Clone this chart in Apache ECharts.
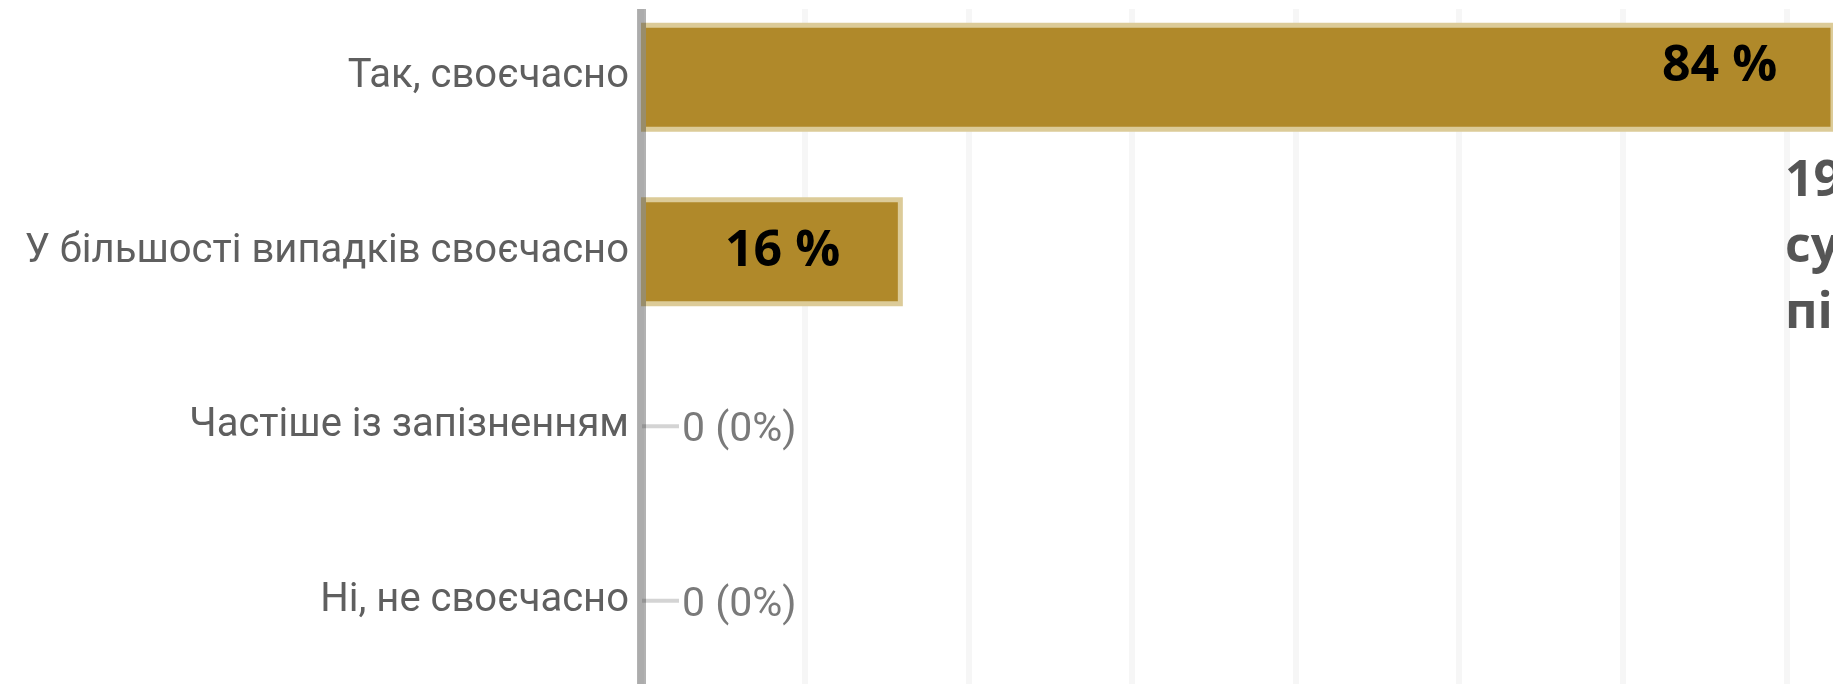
<!DOCTYPE html>
<html>
<head>
<meta charset="utf-8">
<script src="https://cdn.jsdelivr.net/npm/echarts@6/dist/echarts.min.js"></script>
<style>
  html, body { margin: 0; padding: 0; background: #fff; }
  #ftBarBox { width: 1833px; height: 684px; }
</style>
</head>
<body>
<div id="ftBarBox"></div>
<script>
// варіанти відповідей
var categories = ["Так, своєчасно", "У більшості випадків своєчасно", "Частіше із запізненням", "Ні, не своєчасно"];
// кількість відповідей
var counts = [21, 4, 0, 0];
// відсотки
var percents = [84, 16, 0, 0];
// текст праворуч (обрізаний)
var noteLines = ["19", "су", "пі"];

var myChart = echarts.init(document.getElementById("ftBarBox"));

var seriesData = counts.map(function (v, i) {
  var item = { value: v };
  if (v > 0) {
    item.label = {
      show: true,
      position: "insideLeft",
      offset: i === 0 ? [1016, -11] : [79, 0], //підпис як на картинці
      formatter: percents[i] + " %",
      color: "#000",
      fontFamily: "Open Sans",
      fontWeight: "bold",
      fontSize: 50,
    };
  } else {
    item.itemStyle = { borderWidth: 0 };
    item.label = {
      show: true,
      position: "right",
      distance: 1,
      formatter: "{l| }{t|" + v + " (" + percents[i] + "%)}",
      rich: {
        l: { width: 37, height: 4, backgroundColor: "#d4d4d4" },
        t: { color: "#7a7a7a", fontFamily: "Roboto", fontSize: 41, padding: [9, 0, 0, 3] },
      },
    };
  }
  return item;
});

var option = {
  animation: false,
  grid: {
    left: 641,
    right: 0,
    top: -10,
    height: 698,
    outerBoundsMode: "none", //не стискати сітку через підписи
  },
  xAxis: {
    type: "value",
    min: 0,
    max: 18.21,
    interval: 2.5,
    axisLabel: { show: false },
    axisTick: { show: false },
    axisLine: { show: false },
    splitLine: {
      showMaxLine: false,
      lineStyle: { color: "#f6f6f6", width: 6 },
    },
  },
  yAxis: {
    type: "category",
    inverse: true,
    data: categories,
    z: 3, //лінія осі поверх барів
    axisTick: { show: false },
    axisLine: {
      lineStyle: { color: "rgba(0,0,0,0.3)", width: 9 },
    },
    axisLabel: {
      margin: 12,
      padding: [9, 0, 0, 0],
      color: "#5f5f5f",
      fontFamily: "Roboto",
      fontSize: 40,
    },
  },
  graphic: [
    {
      type: "rect",
      z: 100,
      shape: { x: 0, y: 0, width: 1833, height: 9 },
      style: { fill: "#fff" },
    },
    {
      type: "text",
      z: 100,
      left: 1785,
      top: 149,
      style: {
        text: noteLines.join("\n"),
        fontFamily: "Open Sans",
        fontWeight: "bold",
        fontSize: 50,
        lineHeight: 66,
        fill: "#555",
      },
    },
  ],
  series: [
    {
      type: "bar",
      data: seriesData,
      barWidth: 109,
      itemStyle: {
        color: "#b0892a",
        borderColor: "#dccb98",
        borderWidth: 5,
      },
    },
  ],
};

myChart.setOption(option);
window.addEventListener("resize", function () {
  myChart.resize();
});
</script>
</body>
</html>
